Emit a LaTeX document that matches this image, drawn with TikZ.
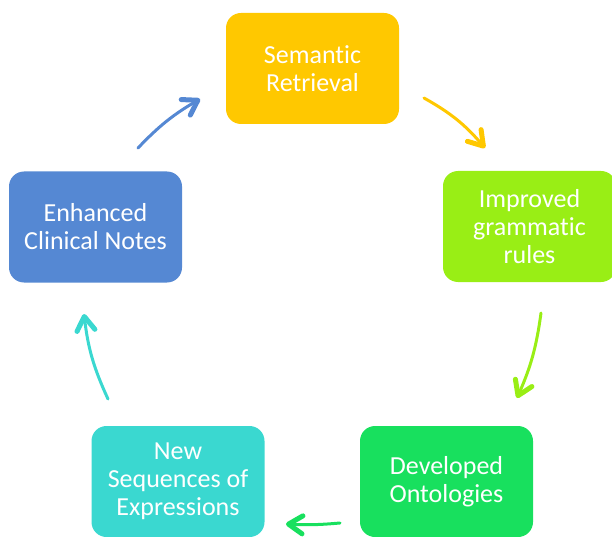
\documentclass[tikz,border=0pt]{standalone}
\usepackage{fontspec}
\setmainfont{Carlito}[Ligatures=NoCommon]
\usetikzlibrary{arrows.meta}
\definecolor{gold}{HTML}{FFC800}
\definecolor{lime}{HTML}{99EE15}
\definecolor{mint}{HTML}{18E05E}
\definecolor{aqua}{HTML}{3AD8D0}
\definecolor{steel}{HTML}{5588D3}
\tikzset{
  stage/.style={rounded corners=15pt,minimum width=173pt,minimum height=111pt,inner sep=0pt,
    text=white,align=center,font=\fontsize{26}{28}\selectfont},
  flow/.style={line width=3pt,line cap=round,
    -{Straight Barb[length=14pt,width=18pt,line width=5pt,round]}}
}
\begin{document}
\begin{tikzpicture}[x=1pt,y=1pt]
	\path[use as bounding box,clip] (0,0) rectangle (612,536);
	\node[stage,fill=gold] (sr) at (312.5,467.5) {Semantic\\Retrieval};
	\node[stage,fill=lime] (igr) at (529.5,309.5) {Improved\\grammatic\\rules};
	\node[stage,fill=mint] (dev) at (446.5,54.5) {Developed\\Ontologies};
	\node[stage,fill=aqua] (nse) at (178,54.5) {New\\Sequences of\\Expressions};
	\node[stage,fill=steel] (ecn) at (95.5,309) {Enhanced\\Clinical Notes};

	% free ends of the cycle arrows
	\coordinate (sr-out) at (424,438);  \coordinate (igr-in) at (485,388);
	\coordinate (igr-out) at (541,223); \coordinate (dev-in) at (517,138);
	\coordinate (dev-out) at (340,13);  \coordinate (nse-in) at (286,12);
	\coordinate (nse-out) at (108,137); \coordinate (ecn-in) at (84,222);
	\coordinate (ecn-out) at (138,388); \coordinate (sr-in) at (200,437);

	\draw[flow,gold] (sr-out) to[bend left=10] (igr-in);
	\draw[flow,lime] (igr-out) to[bend left=8] (dev-in);
	\draw[flow,mint] (dev-out) to[bend left=4] (nse-in);
	\draw[flow,aqua] (nse-out) to[bend left=9] (ecn-in);
	\draw[flow,steel] (ecn-out) to[bend left=8] (sr-in);
\end{tikzpicture}
\end{document}
